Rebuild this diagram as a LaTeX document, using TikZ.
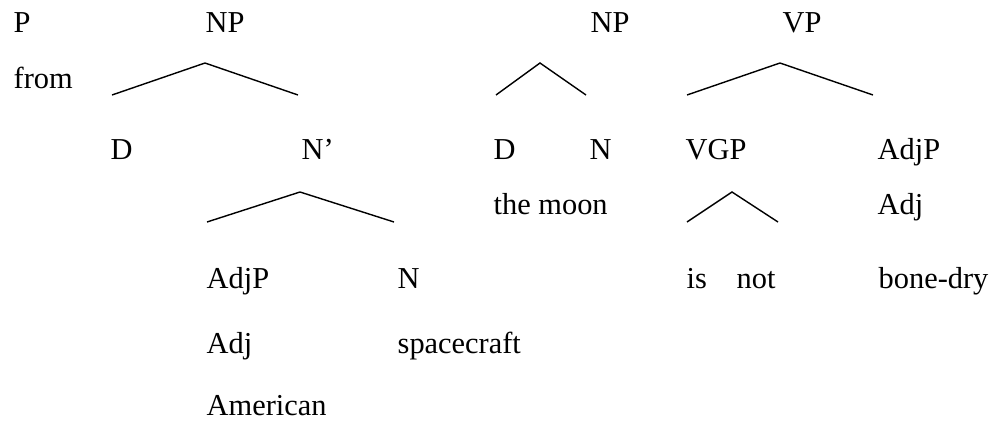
\documentclass[tikz,border=0pt]{standalone}
\usepackage{fontspec}
\setmainfont{Liberation Serif}

\begin{document}
\begin{tikzpicture}[x=0.02cm,y=-0.02cm,line width=0.8pt,
    lab/.style={anchor=base west,inner sep=0pt,font=\fontsize{17.3}{20}\selectfont}]
  \useasboundingbox (0,0) rectangle (995,423);
  % labels
  \node[lab] (P) at (13,32) {P};
  \node[lab] (from) at (13,88) {from};
  \node[lab] (NPa) at (205,32) {NP};
  \node[lab] (NPb) at (590,32) {NP};
  \node[lab] (VP) at (782,32) {VP};
  \node[lab] (Da) at (110,159) {D};
  \node[lab] (Nbar) at (301,159) {N'};
  \node[lab] (Db) at (493,159) {D};
  \node[lab] (Nb) at (589,159) {N};
  \node[lab] (VGP) at (685,159) {VGP};
  \node[lab] (AdjPb) at (877,159) {AdjP};
  \node[lab] (moon) at (493,214) {the moon};
  \node[lab] (Adjb) at (877,214) {Adj};
  \node[lab] (AdjPa) at (206,288) {AdjP};
  \node[lab] (Na) at (397,288) {N};
  \node[lab] (is) at (686,288) {is};
  \node[lab] (not) at (736,288) {not};
  \node[lab] (dry) at (878,288) {bone-dry};
  \node[lab] (Adja) at (206,353) {Adj};
  \node[lab] (craft) at (397,353) {spacecraft};
  \node[lab] (American) at (206,415) {American};
  % branch points
  \coordinate (NPa-top) at (205,63);
  \coordinate (NPa-l) at (112,95);
  \coordinate (NPa-r) at (298,95);
  \coordinate (NPb-top) at (540,63);
  \coordinate (NPb-l) at (496,95);
  \coordinate (NPb-r) at (586,95);
  \coordinate (VP-top) at (780,63);
  \coordinate (VP-l) at (687,95);
  \coordinate (VP-r) at (873,95);
  \coordinate (Nbar-top) at (300,192);
  \coordinate (Nbar-l) at (207,222);
  \coordinate (Nbar-r) at (394,222);
  \coordinate (VGP-top) at (732,192);
  \coordinate (VGP-l) at (687,222);
  \coordinate (VGP-r) at (778,222);
  \draw (NPa-l) -- (NPa-top) -- (NPa-r);
  \draw (NPb-l) -- (NPb-top) -- (NPb-r);
  \draw (VP-l) -- (VP-top) -- (VP-r);
  \draw (Nbar-l) -- (Nbar-top) -- (Nbar-r);
  \draw (VGP-l) -- (VGP-top) -- (VGP-r);
\end{tikzpicture}
\end{document}
